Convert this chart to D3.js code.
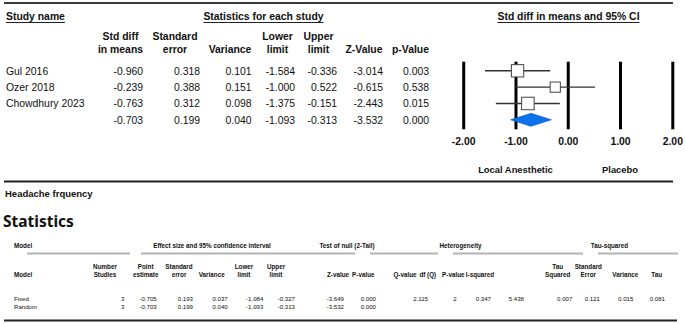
<!DOCTYPE html>
<html>
<head>
<meta charset="utf-8">
<script src="https://cdn.jsdelivr.net/npm/d3@7"></script>
<style>
  body { margin: 0; background: #fff; }
  svg text { font-family: "Liberation Sans", Arial, sans-serif; fill: #111; }
</style>
</head>
<body>
<div id="container"></div>
<script>
/* CONSTANTS AND GLOBALS */
const width = 685,
  height = 324;

/* DATA - study table */
const studies = ["Gul 2016", "Ozer 2018", "Chowdhury 2023"];
const stdDiff = [-0.960, -0.239, -0.763];
const stdErr = [0.318, 0.388, 0.312];
const variance = [0.101, 0.151, 0.098];
const lowerLimit = [-1.584, -1.000, -1.375];
const upperLimit = [-0.336, 0.522, -0.151];
const zValue = [-3.014, -0.615, -2.443];
const pValue = [0.003, 0.538, 0.015];
// pooled row: std diff, se, variance, lower, upper, z, p
const pooled = [-0.703, 0.199, 0.040, -1.093, -0.313, -3.532, 0.000];
const xTicks = [-2, -1, 0, 1, 2];
const favours = ["Local Anesthetic", "Placebo"];

/* DATA - statistics table */
const models = ["Fixed", "Random"];
const nStudies = [3, 3];
const pointEst = [-0.705, -0.703];
const modelSE = [0.193, 0.199];
const modelVar = [0.037, 0.040];
const modelLower = [-1.084, -1.093];
const modelUpper = [-0.327, -0.313];
const modelZ = [-3.649, -3.532];
const modelP = [0.000, 0.000];
const heterogeneity = [2.115, 2, 0.347, 5.438]; // Q, df, P, I-squared (fixed row only)
const tauSquared = [0.007, 0.121, 0.015, 0.081]; // tau², SE, variance, tau

// plain hyphen for negatives, like the original output
const locale = d3.formatLocale({ decimal: ".", thousands: ",", grouping: [3], currency: ["", ""], minus: "-" });
const f3 = locale.format(".3f");
const f2 = locale.format(".2f");

const svg = d3.select("#container")
  .append("svg")
  .attr("width", width)
  .attr("height", height);

// horizontal rules
const rule = (x1, x2, y, w, c) => svg.append("line")
  .attr("x1", x1).attr("x2", x2).attr("y1", y).attr("y2", y)
  .attr("stroke", c).attr("stroke-width", w);

rule(4, 673, 3, 2, "#3a3a3a");
rule(4, 673, 181.5, 2, "#222");
rule(4, 677, 320.5, 2, "#222");

/* TOP TABLE */
const studyTbl = svg.append("g").style("font-size", "10.4px");

function underlined(txt, x, anchor) {
  const t = studyTbl.append("text")
    .attr("x", x).attr("y", 19.5)
    .attr("text-anchor", anchor)
    .attr("font-weight", "bold")
    .text(txt);
  const w = t.node().getComputedTextLength();
  const x0 = anchor === "middle" ? x - w / 2 : x;
  rule(x0, x0 + w, 22.5, 1, "#222");
}
underlined("Study name", 6, "start");
underlined("Statistics for each study", 263.5, "middle");
underlined("Std diff in means and 95% CI", 568.5, "middle");

const colHeads = [["Std diff", "in means"], ["Standard", "error"], ["", "Variance"],
  ["Lower", "limit"], ["Upper", "limit"], ["", "Z-Value"], ["", "p-Value"]];
const headCx = [120.5, 175, 230, 277.5, 318.5, 364, 410.5];
const valRight = [143, 200, 251.5, 295, 337, 383, 429];

colHeads.forEach((h, i) => {
  h.forEach((line, j) => {
    if (!line) return;
    studyTbl.append("text")
      .attr("x", headCx[i]).attr("y", j === 0 ? 39.5 : 52.7)
      .attr("text-anchor", "middle")
      .attr("font-weight", "bold")
      .text(line);
  });
});

const rowY = d3.scalePoint()
  .domain([0, 1, 2, 3])
  .range([70.8, 119.8]);

const rows = studies.map((s, i) => [stdDiff[i], stdErr[i], variance[i], lowerLimit[i], upperLimit[i], zValue[i], pValue[i]]);
rows.push(pooled);

rows.forEach((r, i) => {
  if (i < studies.length) {
    studyTbl.append("text").attr("x", 6).attr("y", rowY(i) + 3.8).text(studies[i]);
  }
  r.forEach((v, j) => {
    studyTbl.append("text")
      .attr("x", valRight[j]).attr("y", rowY(i) + 3.8)
      .attr("text-anchor", "end")
      .text(f3(v));
  });
});

/* FOREST PLOT */
const xScale = d3.scaleLinear()
  .domain([-2, 2])
  .range([463.2, 672.3]);

const plotTop = 61.7, plotBottom = 129.3;

const xAxis = d3.axisBottom(xScale)
  .tickValues(xTicks)
  .tickFormat(f2)
  .tickSizeInner(-(plotBottom - plotTop))
  .tickSizeOuter(0)
  .tickPadding(8.8);

const ax = svg.append("g")
  .attr("transform", `translate(0, ${plotBottom})`)
  .call(xAxis);
ax.select(".domain").remove();
ax.selectAll(".tick line").attr("stroke", "#000").attr("stroke-width", 3);
ax.selectAll(".tick text")
  .attr("fill", "#111")
  .style("font-family", "'Liberation Sans', Arial, sans-serif")
  .style("font-size", "10.4px")
  .style("font-weight", "bold");

// whiskers
svg.selectAll(".ci")
  .data(studies)
  .join("line")
  .attr("class", "ci")
  .attr("x1", (d, i) => xScale(lowerLimit[i]))
  .attr("x2", (d, i) => xScale(upperLimit[i]))
  .attr("y1", (d, i) => rowY(i))
  .attr("y2", (d, i) => rowY(i))
  .attr("stroke", "#333")
  .attr("stroke-width", 1.4);

// boxes sized by random-effects weight
const weights = variance.map(v => 1 / (v + tauSquared[0]));
const maxW = d3.max(weights);
const boxSize = d3.scaleSqrt().domain([0, maxW]).range([0, 12.5]);

svg.selectAll(".box")
  .data(studies)
  .join("rect")
  .attr("class", "box")
  .attr("x", (d, i) => xScale(stdDiff[i]) - boxSize(weights[i]) / 2)
  .attr("y", (d, i) => rowY(i) - boxSize(weights[i]) / 2)
  .attr("width", (d, i) => boxSize(weights[i]))
  .attr("height", (d, i) => boxSize(weights[i]))
  .attr("fill", "#fff")
  .attr("stroke", "#444")
  .attr("stroke-width", 1);

// pooled diamond
const dy = rowY(3), dh = 6.5;
svg.append("path")
  .attr("d", `M${xScale(pooled[3])},${dy} L${xScale(pooled[0])},${dy - dh} L${xScale(pooled[4])},${dy} L${xScale(pooled[0])},${dy + dh} Z`)
  .attr("fill", "#0b72ee")
  .attr("stroke", "#0a55b5")
  .attr("stroke-width", 0.6);

// favours labels
svg.selectAll(".fav")
  .data(favours)
  .join("text")
  .attr("class", "fav")
  .attr("x", (d, i) => xScale(i === 0 ? -1 : 1))
  .attr("y", 173.4)
  .attr("text-anchor", "middle")
  .attr("font-weight", "bold")
  .style("font-size", "9.4px")
  .text(d => d);

/* LOWER SECTION */
svg.append("text")
  .attr("x", 5).attr("y", 196.5)
  .attr("font-weight", "bold")
  .style("font-size", "9.5px")
  .text("Headache frquency");

svg.append("text")
  .attr("x", 3).attr("y", 226.5)
  .attr("font-weight", "bold")
  .style("font-family", "'Noto Sans', 'Open Sans', sans-serif")
  .style("font-size", "15.5px")
  .text("Statistics");

const st = svg.append("g").style("font-size", "6.3px");

// group headings
const groups = ["Model", "Effect size and 95% confidence interval", "Test of null (2-Tail)", "Heterogeneity", "Tau-squared"];
const groupX = [14, 212, 347, 460.5, 609.5];
groups.forEach((g, i) => {
  st.append("text")
    .attr("x", groupX[i]).attr("y", 248.2)
    .attr("text-anchor", i === 0 ? "start" : "middle")
    .attr("font-weight", "bold")
    .text(g);
});
const groupLines = [[27, 130], [141, 355], [370, 438], [453, 583], [598, 678]];
groupLines.forEach(s => rule(s[0], s[1], 253.5, 2, "#b4b4b4"));

// column headings
const statHeads = [["", "Model"], ["Number", "Studies"], ["Point", "estimate"], ["Standard", "error"], ["", "Variance"],
  ["Lower", "limit"], ["Upper", "limit"], ["", "Z-value"], ["", "P-value"],
  ["", "Q-value"], ["", "df (Q)"], ["", "P-value"], ["", "I-squared"],
  ["Tau", "Squared"], ["Standard", "Error"], ["", "Variance"], ["", "Tau"]];
const statHeadX = [14, 105, 145.7, 179, 211.7, 244, 276, 338, 363.3, 405, 427.8, 453.3, 480, 557.7, 588.3, 625.3, 656.7];
statHeads.forEach((h, i) => {
  h.forEach((line, j) => {
    if (!line) return;
    st.append("text")
      .attr("x", statHeadX[i]).attr("y", j === 0 ? 269 : 276.6)
      .attr("text-anchor", i === 0 ? "start" : "middle")
      .attr("font-weight", "bold")
      .text(line);
  });
});

// value rows
const statRight = [124.3, 156.7, 193, 227.7, 263.3, 295, 344, 376, 428, 456.7, 491, 524, 572.3, 600, 633.3, 665];
const statRowY = [300.5, 309];
models.forEach((m, i) => {
  st.append("text").attr("x", 14).attr("y", statRowY[i]).style("font-size", "6.1px").text(m);
  let vals = [nStudies[i], pointEst[i], modelSE[i], modelVar[i], modelLower[i], modelUpper[i], modelZ[i], modelP[i]]
    .map((v, j) => j === 0 ? String(v) : f3(v));
  if (i === 0) {
    vals = vals.concat(heterogeneity.map((v, j) => j === 1 ? String(v) : f3(v)), tauSquared.map(f3));
  }
  vals.forEach((v, j) => {
    st.append("text")
      .attr("x", statRight[j]).attr("y", statRowY[i])
      .attr("text-anchor", "end")
      .style("font-size", "6.1px")
      .text(v);
  });
});
</script>
</body>
</html>
